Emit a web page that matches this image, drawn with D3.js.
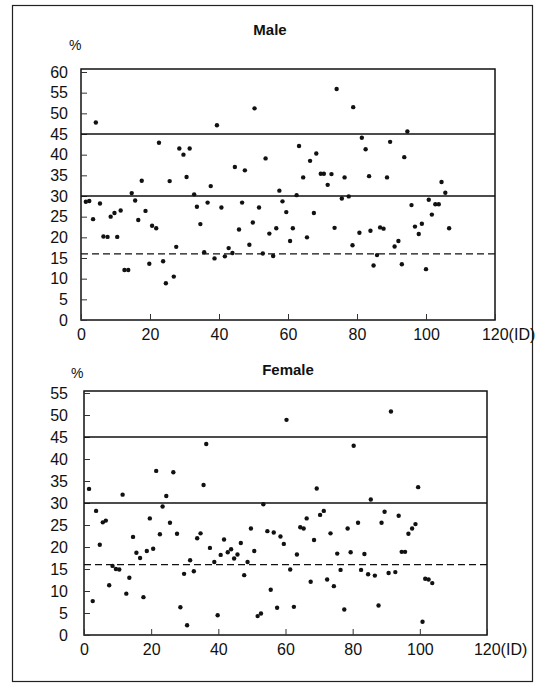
<!DOCTYPE html>
<html>
<head>
<meta charset="utf-8">
<script src="https://cdn.jsdelivr.net/npm/d3@7"></script>
<style>
  body { margin: 0; background: #fff; }
  svg text { font-family: "Liberation Sans", Arial, sans-serif; fill: #111; }
</style>
</head>
<body>
<div id="chart"></div>
<script>
// Male: ID and percentage
const maleId = [1.4, 2.4, 3.5, 4.3, 5.5, 6.5, 7.7, 8.6, 9.7, 10.5, 11.5, 12.6, 13.7, 14.7, 15.7, 16.6, 17.6, 18.7, 19.8, 20.6,
  21.8, 22.6, 23.8, 24.6, 25.7, 26.9, 27.6, 28.5, 29.7, 30.6, 31.5, 32.8, 33.6, 34.6, 35.7, 36.7, 37.6, 38.7, 39.4, 40.7,
  41.7, 42.8, 43.9, 44.6, 45.8, 46.7, 47.5, 48.8, 49.8, 50.3, 51.6, 52.7, 53.5, 54.6, 55.7, 56.6, 57.5, 58.4, 59.5, 60.6,
  61.4, 62.5, 63.2, 64.4, 65.5, 66.4, 67.5, 68.2, 69.5, 70.4, 71.5, 72.6, 73.5, 74.1, 75.6, 76.4, 77.6, 78.7, 78.9, 80.7,
  81.4, 82.5, 83.5, 83.9, 84.8, 85.8, 86.7, 87.7, 88.7, 89.6, 90.9, 92.0, 93.0, 93.7, 94.6, 95.8, 96.8, 97.9, 98.8, 100.0,
  100.8, 101.7, 102.7, 103.7, 104.5, 105.6, 106.7];
const maleValue = [28.6, 28.8, 24.4, 47.8, 28.2, 20.2, 20.1, 25.0, 25.9, 20.1, 26.5, 12.1, 12.1, 30.7, 28.9, 24.2, 33.7, 26.4, 13.6, 22.8,
  22.2, 42.9, 14.2, 8.9, 33.6, 10.5, 17.7, 41.5, 40.0, 34.6, 41.5, 30.4, 27.4, 23.2, 16.4, 28.4, 32.4, 14.9, 47.1, 27.2,
  15.4, 17.4, 16.2, 37.0, 21.9, 28.4, 36.2, 18.2, 23.6, 51.2, 27.2, 16.1, 39.1, 20.9, 15.5, 22.2, 31.3, 28.7, 26.1, 19.1,
  22.2, 30.2, 42.1, 34.5, 20.0, 38.5, 25.9, 40.3, 35.4, 35.4, 32.7, 35.3, 22.3, 55.9, 29.4, 34.5, 29.9, 18.1, 51.5, 21.1,
  44.1, 41.3, 34.8, 21.6, 13.2, 15.7, 22.4, 22.1, 34.5, 43.1, 17.8, 19.1, 13.5, 39.4, 45.6, 27.8, 22.6, 20.8, 23.3, 12.3,
  29.1, 25.5, 28.0, 28.0, 33.4, 30.8, 22.2];

// Female: ID and percentage
const femaleId = [1.5, 2.6, 3.6, 4.7, 5.6, 6.5, 7.5, 8.5, 9.5, 10.5, 11.5, 12.6, 13.5, 14.6, 15.6, 16.7, 17.7, 18.7, 19.6, 20.6,
  21.5, 22.6, 23.4, 24.5, 25.6, 26.6, 27.7, 28.7, 29.8, 30.7, 31.6, 32.7, 33.7, 34.7, 35.6, 36.4, 37.5, 38.8, 39.8, 40.7,
  41.7, 42.8, 43.8, 44.7, 45.7, 46.7, 47.7, 48.7, 49.7, 50.7, 51.7, 52.7, 53.4, 54.6, 55.6, 56.5, 57.5, 58.5, 59.5, 60.3,
  61.4, 62.5, 63.4, 64.4, 65.4, 66.3, 67.5, 68.5, 69.3, 70.3, 71.4, 72.4, 73.4, 74.4, 75.4, 76.4, 77.5, 78.5, 79.4, 80.3,
  81.6, 82.5, 83.5, 84.6, 85.4, 86.6, 87.7, 88.6, 89.5, 90.7, 91.4, 92.7, 93.7, 94.6, 95.6, 96.6, 97.7, 98.7, 99.5, 100.8,
  101.6, 102.6, 103.7];
const femaleValue = [33.2, 7.7, 28.2, 20.5, 25.6, 26.0, 11.3, 15.7, 15.0, 14.9, 31.9, 9.4, 13.0, 22.3, 18.7, 17.5, 8.6, 19.1, 26.5, 19.6,
  37.3, 22.9, 29.2, 31.6, 25.5, 37.0, 23.0, 6.3, 13.9, 2.2, 17.0, 14.5, 22.0, 23.1, 34.1, 43.4, 19.8, 16.6, 4.5, 18.2,
  21.7, 18.8, 19.5, 17.4, 18.3, 20.9, 13.6, 16.6, 24.2, 19.1, 4.3, 4.9, 29.7, 23.6, 10.3, 23.3, 6.2, 22.4, 20.7, 48.9,
  14.9, 6.4, 18.3, 24.5, 24.2, 26.5, 12.1, 21.6, 33.3, 27.3, 28.2, 12.6, 23.1, 11.1, 18.5, 14.8, 5.8, 24.2, 18.8, 43.0,
  25.5, 14.8, 18.4, 13.8, 30.8, 13.5, 6.7, 25.5, 28.0, 14.1, 50.8, 14.3, 27.1, 18.9, 18.9, 23.0, 24.2, 25.2, 33.6, 3.0,
  12.8, 12.6, 11.8];

const xTicks = [0, 20, 40, 60, 80, 100, 120];
const xTickLabels = ["0", "20", "40", "60", "80", "100", "120(ID)"];
const maleYTicks = [0, 5, 10, 15, 20, 25, 30, 35, 40, 45, 50, 55, 60];
const femaleYTicks = [0, 5, 10, 15, 20, 25, 30, 35, 40, 45, 50, 55];
const solidLines = [30, 45];
const dashedLine = 16;

const W = 545, H = 689;
const svg = d3.select("#chart").append("svg")
  .attr("width", W).attr("height", H);

// outer border
svg.append("rect")
  .attr("x", 12.5).attr("y", 5.5).attr("width", 520).attr("height", 676)
  .attr("fill", "none").attr("stroke", "#222").attr("stroke-width", 1.2);

function drawPanel(opt) {
  const x = d3.scaleLinear().domain([0, 120]).range([opt.left, opt.right]);
  const y = d3.scaleLinear().domain([0, opt.yMax]).range([opt.bottom, opt.top]);
  const g = svg.append("g");

  // frame
  g.append("rect")
    .attr("x", opt.left).attr("y", opt.frameTop)
    .attr("width", opt.right - opt.left).attr("height", opt.bottom - opt.frameTop)
    .attr("fill", "none").attr("stroke", "#111").attr("stroke-width", 1.5);

  // y axis, ticks pointing inward
  const yAxis = g.append("g")
    .attr("transform", `translate(${opt.left},0)`)
    .call(d3.axisLeft(y).tickValues(opt.yTicks).tickSizeInner(-6).tickSizeOuter(0).tickPadding(opt.yPad));
  yAxis.select(".domain").remove();
  yAxis.selectAll("line").attr("stroke", "#333");
  yAxis.selectAll("text").style("font-size", "16px").attr("fill", "#111");

  // x axis
  const xAxis = g.append("g")
    .attr("transform", `translate(0,${opt.bottom})`)
    .call(d3.axisBottom(x).tickValues(xTicks).tickSizeInner(-6).tickSizeOuter(0).tickPadding(9)
      .tickFormat((d, i) => xTickLabels[i]));
  xAxis.select(".domain").remove();
  xAxis.selectAll("line").attr("stroke", "#333");
  xAxis.selectAll("text").style("font-size", "16px").attr("fill", "#111");
  // the last label "120(ID)" starts under the tick for 120
  xAxis.selectAll(".tick").filter(d => d === 120).select("text")
    .attr("text-anchor", "start").attr("dx", "-0.85em");

  // reference lines
  solidLines.forEach(v => {
    g.append("line")
      .attr("x1", opt.left).attr("x2", opt.right)
      .attr("y1", y(v)).attr("y2", y(v))
      .attr("stroke", "#111").attr("stroke-width", 1.4);
  });
  g.append("line")
    .attr("x1", opt.left).attr("x2", opt.right)
    .attr("y1", y(dashedLine)).attr("y2", y(dashedLine))
    .attr("stroke", "#111").attr("stroke-width", 1.1)
    .attr("stroke-dasharray", "7,4");

  // points
  g.selectAll("circle")
    .data(opt.ids.map((d, i) => ({ id: d, v: opt.values[i] })))
    .enter().append("circle")
    .attr("cx", d => x(d.id))
    .attr("cy", d => y(d.v))
    .attr("r", 2.2)
    .attr("fill", "#111");

  // title and unit
  svg.append("text")
    .attr("x", opt.titleX).attr("y", opt.titleY)
    .attr("text-anchor", "middle")
    .style("font-size", "15px").style("font-weight", "bold")
    .text(opt.title);
  svg.append("text")
    .attr("x", opt.unitX).attr("y", opt.unitY)
    .style("font-size", "14px")
    .text("%");
}

drawPanel({
  title: "Male", titleX: 270, titleY: 35,
  unitX: 69, unitY: 50,
  left: 81, right: 495, top: 72, bottom: 320, frameTop: 69,
  yMax: 60, yTicks: maleYTicks, yPad: 13,
  ids: maleId, values: maleValue
});

drawPanel({
  title: "Female", titleX: 288, titleY: 375,
  unitX: 71, unitY: 378,
  left: 84, right: 487, top: 393, bottom: 635, frameTop: 391,
  yMax: 55, yTicks: femaleYTicks, yPad: 16,
  ids: femaleId, values: femaleValue
});
</script>
</body>
</html>
